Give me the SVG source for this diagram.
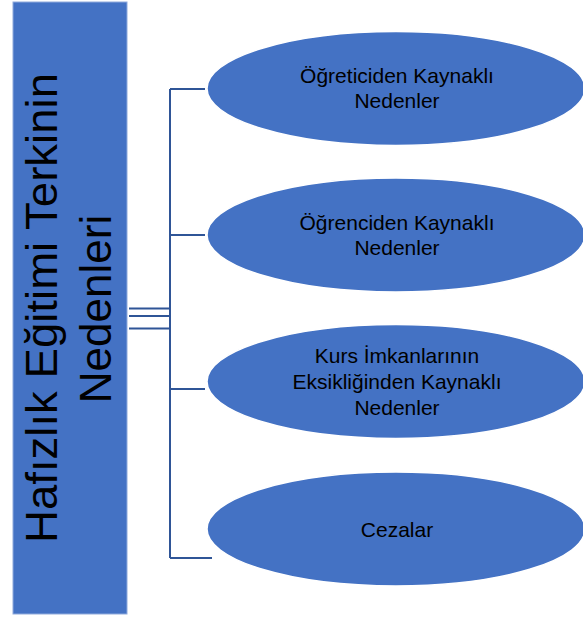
<svg xmlns="http://www.w3.org/2000/svg" width="583" height="619" viewBox="0 0 583 619">
<style>
.node{fill:#4472C4;stroke:#ffffff;stroke-width:1.5}
.lbl{font-family:"Liberation Sans",Arial,sans-serif;font-size:21px;fill:#000;text-anchor:middle}
.title{font-family:"Liberation Sans",Arial,sans-serif;font-size:44px;fill:#000;text-anchor:middle}
.conn{stroke:#2F5597;stroke-width:2;fill:none}
</style>
<rect width="583" height="619" fill="#ffffff"/>
<g id="root">
<rect x="13" y="2" width="114" height="612" fill="#4472C4" stroke="#8FAADC" stroke-width="1"/>
<text class="title" transform="translate(57,308) rotate(-90)" textLength="470" lengthAdjust="spacingAndGlyphs">Hafızlık Eğitimi Terkinin</text>
<text class="title" transform="translate(111,309) rotate(-90)">Nedenleri</text>
</g>
<g id="connectors">
<path class="conn" d="M170,89 V558"/>
<path class="conn" d="M170,89 H205"/>
<path class="conn" d="M170,235 H205"/>
<path class="conn" d="M170,389 H205"/>
<path class="conn" d="M170,558 H212"/>
<path class="conn" d="M129,308.5 H170 M129,316 H170 M129,328.5 H170"/>
</g>
<g id="n1">
<ellipse class="node" cx="396" cy="88.5" rx="189" ry="57"/>
<text class="lbl" x="397" y="83">Öğreticiden Kaynaklı</text>
<text class="lbl" x="397" y="108">Nedenler</text>
</g>
<g id="n2">
<ellipse class="node" cx="396" cy="235" rx="189" ry="57"/>
<text class="lbl" x="397" y="230">Öğrenciden Kaynaklı</text>
<text class="lbl" x="397" y="255">Nedenler</text>
</g>
<g id="n3">
<ellipse class="node" cx="396" cy="381.5" rx="189" ry="57"/>
<text class="lbl" x="397" y="363">Kurs İmkanlarının</text>
<text class="lbl" x="397" y="389">Eksikliğinden Kaynaklı</text>
<text class="lbl" x="397" y="415">Nedenler</text>
</g>
<g id="n4">
<ellipse class="node" cx="396" cy="529" rx="189" ry="57"/>
<text class="lbl" x="397" y="537">Cezalar</text>
</g>
</svg>
